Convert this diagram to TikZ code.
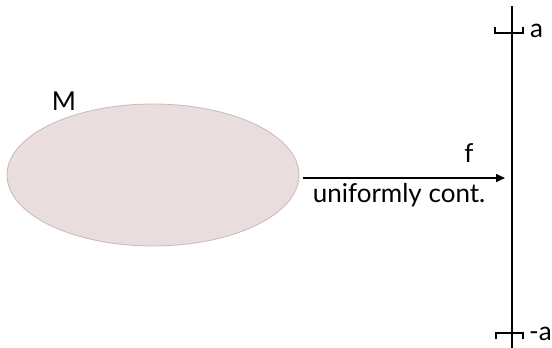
\documentclass[tikz,border=0pt]{standalone}
\usepackage{fontspec}
\setmainfont{Lato}
\usetikzlibrary{arrows.meta,shapes.geometric}
\definecolor{setfill}{HTML}{E9DEDD}
\definecolor{setdraw}{HTML}{C9B9B8}
\begin{document}
\begin{tikzpicture}[x=1pt,y=-1pt,
  lbl/.style={font=\fontsize{26}{31}\selectfont, inner sep=0pt},
  axisline/.style={line width=2pt},
  tick/.style={line width=2pt}]
\useasboundingbox (0,0) rectangle (552,348);
\node[ellipse, fill=setfill, draw=setdraw, line width=0.8pt,
      minimum width=292pt, minimum height=142pt] (set) at (153,175) {};
\node[lbl] (M) at (64,101) {M};
\coordinate (top) at (512,6);
\coordinate (bot) at (512,348);
\draw[axisline] (top) -- (bot);
\coordinate (ta) at (512,33);
\coordinate (tb) at (512,333);
\draw[tick] ([xshift=-17pt,yshift=6pt]ta) -- ([xshift=-17pt]ta) -- ([xshift=11pt]ta) -- ([xshift=11pt,yshift=6pt]ta);
\draw[tick] ([xshift=-16pt,yshift=-6pt]tb) -- ([xshift=-16pt]tb) -- ([xshift=11pt]tb) -- ([xshift=11pt,yshift=-6pt]tb);
\node[lbl, anchor=west] (a) at (530,31) {a};
\node[lbl, anchor=west] (ma) at (529,334) {-a};
\coordinate (arrend) at (505,178);
\draw[line width=1.6pt, -{Triangle[length=9pt,width=8pt]}] (set.east |- arrend) ++(4,0) coordinate (arrstart) -- (arrend);
\node[lbl] (f) at (469,153) {f};
\node[lbl] (uc) at (399,195) {uniformly cont.};
\end{tikzpicture}
\end{document}
